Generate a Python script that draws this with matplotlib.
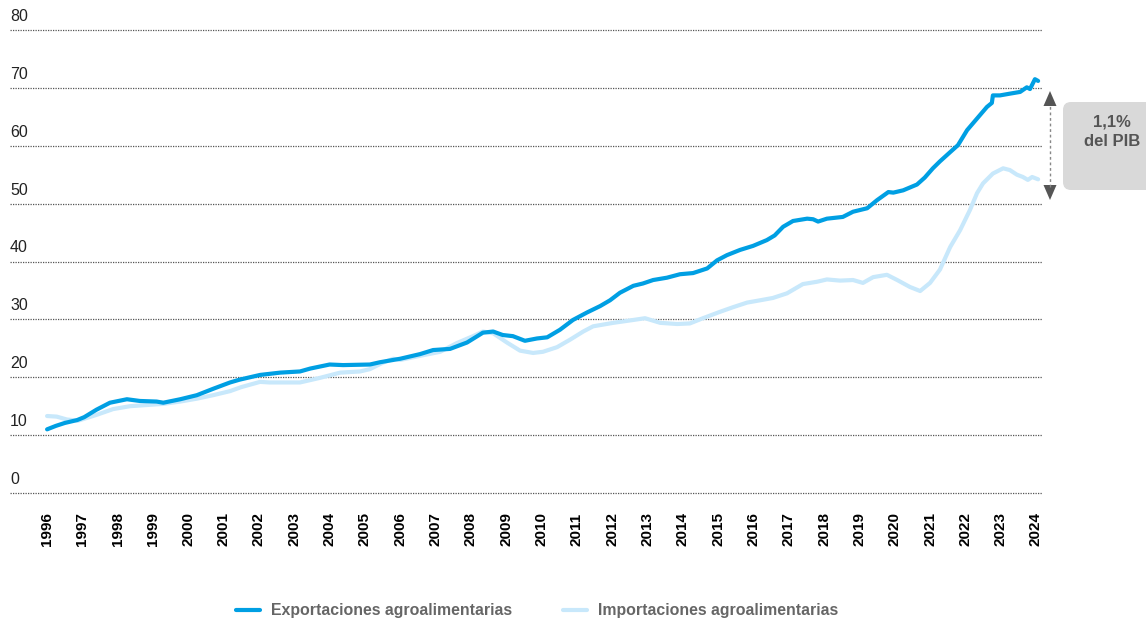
import matplotlib.pyplot as plt
from matplotlib.patches import FancyBboxPatch, Polygon
from matplotlib.transforms import offset_copy

# Datos (miles de millones de euros)
exp_years = [1996.0, 1996.25, 1996.5, 1996.85, 1997.05, 1997.4, 1997.78, 1998.26, 1998.63,
             1999.1, 1999.29, 1999.77, 2000.24, 2000.7, 2001.18, 2001.46, 2002.03, 2002.6,
             2003.16, 2003.45, 2004.0, 2004.38, 2005.14, 2005.43, 2006.0, 2006.56, 2006.93,
             2007.41, 2007.89, 2008.34, 2008.63, 2008.9, 2009.19, 2009.53, 2009.87, 2010.16,
             2010.52, 2010.89, 2011.29, 2011.66, 2011.94, 2012.22, 2012.6, 2012.87, 2013.16,
             2013.55, 2013.92, 2014.29, 2014.69, 2014.97, 2015.25, 2015.62, 2015.99, 2016.38,
             2016.6, 2016.84, 2017.12, 2017.52, 2017.69, 2017.83, 2018.08, 2018.53, 2018.82,
             2019.22, 2019.5, 2019.82, 2019.96, 2020.24, 2020.63, 2020.85, 2021.08, 2021.28,
             2021.57, 2021.79, 2022.05, 2022.33, 2022.61, 2022.75, 2022.78, 2022.98, 2023.26,
             2023.55, 2023.74, 2023.83, 2023.97, 2024.06]
exp_values = [11.0, 11.6, 12.1, 12.6, 13.1, 14.4, 15.6, 16.2, 15.9,
              15.8, 15.6, 16.2, 16.9, 18.0, 19.1, 19.6, 20.4, 20.8,
              21.0, 21.5, 22.2, 22.1, 22.2, 22.6, 23.2, 24.0, 24.7,
              24.9, 26.0, 27.7, 27.9, 27.3, 27.1, 26.3, 26.7, 26.9,
              28.2, 29.9, 31.2, 32.3, 33.3, 34.6, 35.8, 36.2, 36.8,
              37.2, 37.8, 38.0, 38.8, 40.2, 41.1, 42.0, 42.7, 43.7,
              44.5, 46.0, 47.0, 47.4, 47.3, 46.9, 47.4, 47.7, 48.6,
              49.2, 50.6, 52.0, 51.9, 52.3, 53.3, 54.5, 56.1, 57.3,
              58.9, 60.1, 62.7, 64.7, 66.7, 67.4, 68.7, 68.7, 69.0,
              69.3, 70.1, 69.8, 71.5, 71.2]

imp_years = [1996.0, 1996.27, 1996.56, 1996.88, 1997.4, 1997.87, 1998.35, 1998.82, 1999.29,
             1999.77, 2000.24, 2000.7, 2001.18, 2001.5, 2002.03, 2002.3, 2003.16, 2003.73,
             2004.3, 2004.86, 2005.14, 2005.5, 2005.8, 2006.0, 2006.56, 2007.13, 2007.6,
             2008.06, 2008.34, 2008.63, 2009.02, 2009.39, 2009.76, 2010.04, 2010.44, 2010.81,
             2011.18, 2011.46, 2012.03, 2012.6, 2012.93, 2013.36, 2013.84, 2014.2, 2014.57,
             2015.05, 2015.42, 2015.82, 2016.19, 2016.55, 2016.95, 2017.4, 2017.8, 2018.08,
             2018.45, 2018.82, 2019.1, 2019.39, 2019.78, 2020.07, 2020.43, 2020.72, 2021.0,
             2021.28, 2021.57, 2021.85, 2022.13, 2022.33, 2022.5, 2022.78, 2023.07, 2023.26,
             2023.46, 2023.63, 2023.77, 2023.89, 2024.06]
imp_values = [13.3, 13.2, 12.7, 12.5, 13.5, 14.5, 15.0, 15.2, 15.4,
              15.8, 16.3, 16.9, 17.6, 18.3, 19.2, 19.1, 19.1, 19.9,
              20.8, 21.0, 21.4, 22.5, 23.2, 23.0, 23.7, 24.4, 25.9,
              27.1, 27.9, 27.6, 26.0, 24.6, 24.2, 24.4, 25.2, 26.5,
              27.9, 28.8, 29.4, 29.9, 30.2, 29.4, 29.2, 29.3, 30.2,
              31.3, 32.1, 32.9, 33.3, 33.7, 34.5, 36.1, 36.5, 36.9,
              36.7, 36.8, 36.3, 37.3, 37.7, 36.8, 35.6, 34.9, 36.3,
              38.6, 42.5, 45.4, 48.9, 51.8, 53.5, 55.2, 56.1, 55.8,
              55.0, 54.6, 54.1, 54.6, 54.2]

year_ticks = list(range(1996, 2025))
y_ticks = [0, 10, 20, 30, 40, 50, 60, 70, 80]

EXP_COLOR = '#009FE3'
IMP_COLOR = '#C8E8FB'

plt.rcParams['font.family'] = ['Liberation Sans', 'DejaVu Sans']

fig = plt.figure(figsize=(11.46, 6.25), dpi=100)
ax = fig.add_axes([10 / 1146, 132 / 625, 1032 / 1146, 463 / 625])

ax.plot(imp_years, imp_values, color=IMP_COLOR, lw=3.0, solid_capstyle='round',
        label='Importaciones agroalimentarias')
ax.plot(exp_years, exp_values, color=EXP_COLOR, lw=3.0, solid_capstyle='round',
        label='Exportaciones agroalimentarias')

ax.set_xlim(1994.95, 2024.17)
ax.set_ylim(0, 80)
for s in ax.spines.values():
    s.set_visible(False)

# rejilla punteada
for v in y_ticks:
    ax.axhline(v, color='#555555', lw=0.9, linestyle=(0, (1, 1)), zorder=0, clip_on=False)

# etiquetas del eje y encima de cada línea
ax.set_yticks([])
ytrans = offset_copy(ax.get_yaxis_transform(), fig=fig, y=6.5, units='points')
for v in y_ticks:
    ax.text(0, v, str(v), transform=ytrans, ha='left', va='baseline',
            fontsize=11.5, color='#222222')

ax.set_xticks(year_ticks)
ax.set_xticklabels([str(y) for y in year_ticks], rotation=90, fontweight='bold',
                   fontsize=11, va='top')
ax.tick_params(axis='x', length=0, pad=14)

# leyenda
handles, labels = ax.get_legend_handles_labels()
fig.legend(handles[::-1], labels[::-1], loc='center', bbox_to_anchor=(537 / 1146, 1 - 611 / 625),
           ncol=2, frameon=False, handlelength=1.5, handletextpad=0.7, columnspacing=3.2,
           prop={'weight': 'bold', 'size': 11.4}, labelcolor='#666666')

# anotación 1,1% del PIB
inch = fig.dpi_scale_trans
box = FancyBboxPatch((10.63, 4.35), 1.0, 0.88, boxstyle='round,pad=0,rounding_size=0.08',
                     transform=inch, facecolor='#D9D9D9', edgecolor='none')
fig.patches.append(box)
fig.text(11.12, 4.935, '1,1%\ndel PIB', transform=inch, ha='center', va='center',
         fontsize=12, fontweight='bold', color='#555555', linespacing=1.4)

ax_x = 10.50
fig.lines.append(plt.Line2D([ax_x, ax_x], [4.38, 5.21], transform=inch, color='#888888',
                            lw=1, linestyle=(0, (2, 2))))
top = Polygon([[ax_x, 5.34], [ax_x - 0.065, 5.19], [ax_x + 0.065, 5.19]], closed=True,
              transform=inch, facecolor='#555555', edgecolor='none')
bottom = Polygon([[ax_x, 4.25], [ax_x - 0.065, 4.40], [ax_x + 0.065, 4.40]], closed=True,
                 transform=inch, facecolor='#555555', edgecolor='none')
fig.patches.append(top)
fig.patches.append(bottom)

fig.savefig('out.png', dpi=100)
